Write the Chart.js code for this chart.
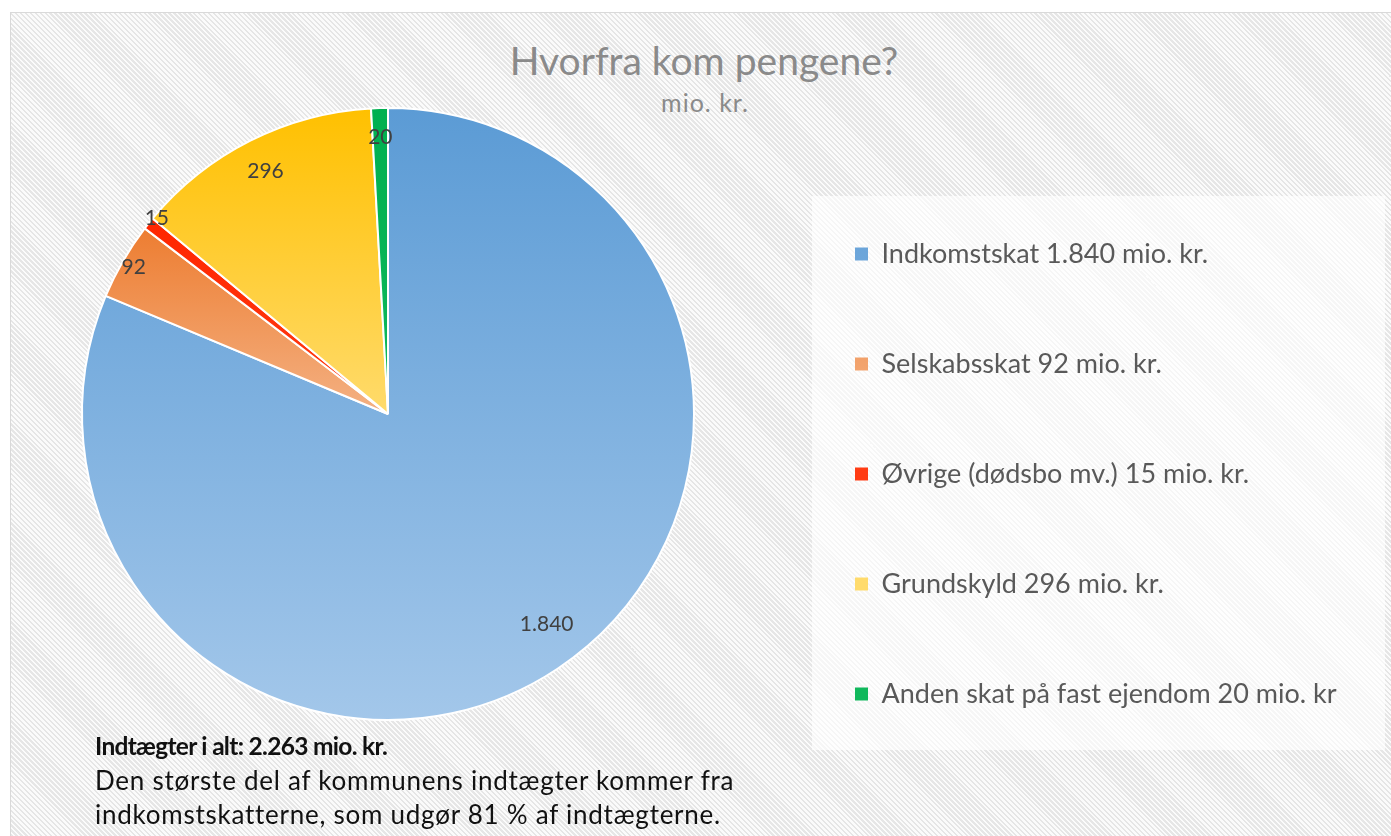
<!DOCTYPE html>
<html>
<head>
<meta charset="utf-8">
<script src="https://cdn.jsdelivr.net/npm/chart.js@4.4.1/dist/chart.umd.min.js"></script>
<style>
  html, body { margin: 0; padding: 0; background: #fff; overflow: hidden; }
  #page { position: relative; width: 1391px; height: 836px; overflow: hidden; font-family: Lato, sans-serif; }
  #frame {
    position: absolute; left: 10px; top: 12px; width: 1420px; height: 900px;
    border: 1px solid #d9d9d9;
    background: repeating-linear-gradient(45deg, #fbfbfb 0px, #fbfbfb 1.75px, #e6e6e6 1.75px, #e6e6e6 3.5px);
  }
  #legendBox { position: absolute; left: 812px; top: 196px; width: 573px; height: 554px; background: rgba(255,255,255,0.62); }
  #title { position: absolute; left: 0; width: 1408px; top: 37px; text-align: center; font-size: 39px; font-weight: 400; line-height: 46px; color: #8a8a8a; }
  #subtitle { position: absolute; left: 0; width: 1410px; top: 87px; text-align: center; font-size: 25px; letter-spacing: 1px; line-height: 30px; color: #8a8a8a; }
  #note { position: absolute; left: 95px; top: 728px; font-size: 26px; letter-spacing: 0.75px; line-height: 34px; color: #111; }
  #note b { font-size: 24.5px; letter-spacing: -0.7px; }
  canvas { position: absolute; left: 0; top: 0; }
</style>
</head>
<body>
<div id="page">
  <div id="frame"></div>
  <div id="legendBox"></div>
  <div id="title">Hvorfra kom pengene?</div>
  <div id="subtitle">mio. kr.</div>
  <canvas id="myChart" width="1391" height="836"></canvas>
  <div id="note"><b>Indtægter i alt: 2.263 mio. kr.</b><br>Den største del af kommunens indtægter kommer fra<br>indkomstskatterne, som udgør 81 % af indtægterne.</div>
</div>
<script>
  // data (mio. kr.)
  const categories = [
    'Indkomstskat 1.840 mio. kr.',
    'Selskabsskat 92 mio. kr.',
    'Øvrige (dødsbo mv.) 15 mio. kr.',
    'Grundskyld 296 mio. kr.',
    'Anden skat på fast ejendom 20 mio. kr'
  ];
  const values = [1840, 92, 15, 296, 20];

  // slice colours: top of gradient and bottom of gradient
  const colorsTop = ['#5b9bd5', '#ed7d31', '#ff2600', '#ffc000', '#00b050'];
  const colorsBottom = ['#a3c7ea', '#f4b183', '#ff3c14', '#ffdb6c', '#10b85c'];

  const legendFont = { family: 'Lato', size: 27 };
  const legendGap = 83;
  const legendLeft = 772;

  const fmt = v => String(v).replace(/\B(?=(\d{3})+(?!\d))/g, '.');

  // vertical gradient over the slice's own bounding box, like the Excel fill
  function angleIn(t, a0, a1) {
    for (let k = -2; k <= 2; k++) {
      const u = t + k * 2 * Math.PI;
      if (u >= a0 && u <= a1) return true;
    }
    return false;
  }
  function sliceFill(context) {
    const i = context.dataIndex;
    const el = context.element;
    if (!el || el.x === undefined || el.outerRadius === undefined) return colorsTop[i];
    const { x, y, startAngle, endAngle, outerRadius } = el;
    const ys = [y, y + outerRadius * Math.sin(startAngle), y + outerRadius * Math.sin(endAngle)];
    if (angleIn(Math.PI / 2, startAngle, endAngle)) ys.push(y + outerRadius);
    if (angleIn(-Math.PI / 2, startAngle, endAngle)) ys.push(y - outerRadius);
    const y0 = Math.min(...ys), y1 = Math.max(...ys);
    const g = context.chart.ctx.createLinearGradient(0, y0, 0, y1 + 1);
    g.addColorStop(0, colorsTop[i]);
    g.addColorStop(1, colorsBottom[i]);
    return g;
  }

  // value labels on the slices
  const sliceLabels = {
    id: 'sliceLabels',
    afterDatasetsDraw(chart, args, opts) {
      const ctx = chart.ctx;
      const meta = chart.getDatasetMeta(0);
      ctx.save();
      ctx.font = opts.size + 'px ' + opts.family;
      ctx.fillStyle = opts.color;
      ctx.textAlign = 'center';
      ctx.textBaseline = 'middle';
      meta.data.forEach((arc, i) => {
        const p = arc.getProps(['x', 'y', 'startAngle', 'endAngle', 'outerRadius']);
        const mid = (p.startAngle + p.endAngle) / 2 + opts.angleShift[i];
        const d = p.outerRadius * opts.radiusFactor[i];
        ctx.fillText(fmt(values[i]), p.x + Math.cos(mid) * d, p.y + Math.sin(mid) * d);
      });
      ctx.restore();
    }
  };

  // right padding so the legend starts where the white box is
  const mctx = document.createElement('canvas').getContext('2d');
  mctx.font = legendFont.size + 'px ' + legendFont.family;
  const widest = Math.max(...categories.map(t => mctx.measureText(t).width));
  const rightPad = 1391 - legendLeft - (legendGap + 13 + legendFont.size / 2 + widest + 10);

  const ctx = document.getElementById('myChart').getContext('2d');
  const chart = new Chart(ctx, {
    type: 'pie',
    data: {
      labels: categories,
      datasets: [{
        data: values,
        backgroundColor: sliceFill,
        borderColor: '#ffffff',
        borderWidth: 2,
        hoverOffset: 0
      }]
    },
    options: {
      responsive: false,
      animation: false,
      radius: 306,
      layout: { padding: { left: 4, right: rightPad, top: 0, bottom: 8 } },
      plugins: {
        tooltip: { enabled: false },
        legend: {
          position: 'right',
          align: 'center',
          title: { display: true, text: '', font: { size: 10, lineHeight: 1 }, padding: { top: 110, bottom: 0 } },
          labels: {
            font: legendFont,
            color: '#595959',
            boxWidth: 13,
            boxHeight: 13,
            padding: legendGap,
            generateLabels(c) {
              const items = Chart.overrides.doughnut.plugins.legend.labels.generateLabels(c);
              return items.map(it => Object.assign(it, { lineWidth: 0, strokeStyle: 'rgba(0,0,0,0)' }));
            }
          }
        },
        sliceLabels: {
          family: 'Lato',
          size: 21,
          color: '#404040',
          radiusFactor: [0.86, 0.96, 0.99, 0.89, 0.905],
          angleShift: [-0.06, 0, 0.03, 0, 0]
        }
      }
    },
    plugins: [sliceLabels]
  });
  // second pass so the gradients know the slice geometry
  chart.update('none');
</script>
</body>
</html>
